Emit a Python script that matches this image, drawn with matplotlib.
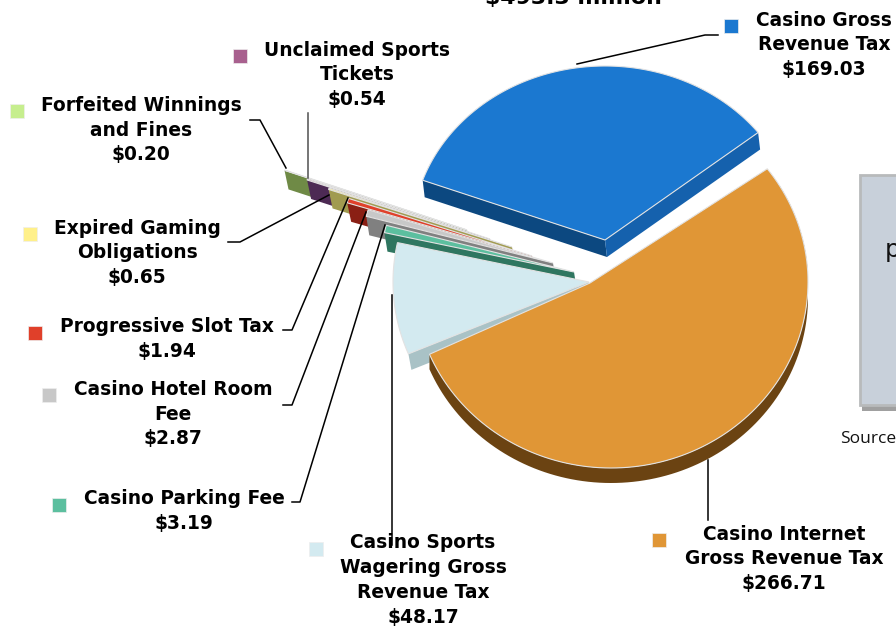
#!/usr/bin/env python3
import numpy as np
import matplotlib
matplotlib.use('Agg')
import matplotlib.pyplot as plt
from matplotlib.patches import Polygon, Rectangle

# pie data, counter clockwise from the blue slice ($ million)
names = ['Casino Gross\nRevenue Tax', 'Forfeited Winnings\nand Fines', 'Unclaimed Sports\nTickets',
         'Expired Gaming\nObligations', 'Progressive Slot Tax', 'Casino Hotel Room\nFee',
         'Casino Parking Fee', 'Casino Sports\nWagering Gross\nRevenue Tax', 'Casino Internet\nGross Revenue Tax']
values = [169.03, 0.20, 0.54, 0.65, 1.94, 2.87, 3.19, 48.17, 266.71]
total_label = '$493.3 million'

tops = ['#1b78d0', '#c6ee8e', '#a8608e', '#fff08a', '#e0402a', '#c8c8c8', '#5cbf9f', '#d3eaf0', '#e09636']
walls = ['#0c4880', '#6f8a46', '#4d2a54', '#a19b50', '#8a1f14', '#808080', '#2f7660', '#a9c2c6', '#6b4312']

# geometry per slice: tip, centre of arc, radii (pixels)
tip = [(605, 240), (467, 230), (490, 239), (512, 247), (532, 256), (553, 263), (574, 272), (589, 282), (590, 283)]
arc_c = [(605, 236), (467, 230), (490, 239), (512, 247), (532, 256), (553, 263), (574, 272), (589, 282), (611, 282)]
rx = [193, 193, 193, 193, 193, 193, 194, 196, 197]
ry = [170, 183, 185, 185, 185, 185, 185, 185, 186]
wall_dx = [2, 4, 4, 4, 4, 3, 3, 3, 0]
depth = [17, 19, 19, 19, 19, 19, 19, 16, 15]
start_angle = 37.5

# label centre, legend square, leader line
label_xy = [(824, 45), (141, 130), (357, 75), (137, 253), (167, 339), (173, 414), (184, 511), (423, 580), (784, 559)]
square_xy = [(731, 26), (17, 111), (240, 56), (30, 234), (35, 333), (49, 395), (59, 505), (316, 549), (659, 540)]
leaders = [[(577, 64), (705, 35), (718, 35)],
           [(250, 120), (260, 120), (286, 168)],
           [(308, 113), (308, 178)],
           [(228, 242), (240, 242), (329, 195)],
           [(283, 330), (292, 330), (348, 198)],
           [(283, 405), (292, 405), (366, 212)],
           [(292, 502), (300, 502), (385, 225)],
           [(392, 295), (392, 545)],
           [(708, 460), (708, 520)]]

fig = plt.figure(figsize=(8.96, 6.27), dpi=100)
ax = fig.add_axes([0, 0, 1, 1])
ax.set_xlim(0, 896)
ax.set_ylim(627, 0)
ax.axis('off')


def arc(c, a, b, i):
    t = np.radians(np.linspace(a, b, 120))
    return np.column_stack([c[0] + rx[i] * np.cos(t), c[1] - ry[i] * np.sin(t)])


sweeps = np.array(values) / sum(values) * 360
edges = start_angle + np.concatenate([[0], np.cumsum(sweeps)])

# thin ones first, then the big ones on top
for i in [1, 2, 3, 4, 5, 6, 7, 0, 8]:
    pts = arc(arc_c[i], edges[i], edges[i + 1], i)
    d = np.array([wall_dx[i], depth[i]])
    tp = np.array(tip[i], dtype=float)
    if i == 8:
        # outer wall seen under the arc
        low = pts[pts[:, 1] > tp[1] - 100]
        wall = np.vstack([low, (low + d)[::-1]])
        ax.add_patch(Polygon(wall, fc=walls[i], ec='none', zorder=3))
    elif i == 0:
        # two straight walls meeting at the tip
        ax.add_patch(Polygon([pts[-1], tp, tp + d, pts[-1] + d], fc=walls[i], ec='none', zorder=3))
        ax.add_patch(Polygon([tp, pts[0], pts[0] + d, tp + d], fc='#1561ad', ec='none', zorder=3))
    else:
        ax.add_patch(Polygon([pts[-1], tp, tp + d, pts[-1] + d], fc=walls[i], ec='none', zorder=3))
    ax.add_patch(Polygon(np.vstack([tp, pts]), fc=tops[i], ec='#e2e2e2', lw=0.8, zorder=3))

for i in range(len(names)):
    xs, ys = zip(*leaders[i])
    ax.plot(xs, ys, color='#505050' if i == 2 else 'black', lw=1.1, zorder=4)
    ax.add_patch(Rectangle((square_xy[i][0] - 7, square_xy[i][1] - 7), 14, 14, fc=tops[i], ec='#eeeeee', lw=0.5, zorder=4))
    ax.text(label_xy[i][0], label_xy[i][1], names[i] + '\n$%.2f' % values[i], ha='center', va='center',
            fontsize=13.4, fontweight='bold', linespacing=1.39, color='black', zorder=5)

ax.text(573, 4, total_label, ha='center', va='baseline', fontsize=15.8, fontweight='bold', clip_on=False)

# panel cut off at the right side
ax.add_patch(Rectangle((862, 406), 40, 5, fc='#a0a0a0', ec='none', zorder=1))
ax.add_patch(Rectangle((860, 175), 40, 230, fc='#c8d0da', ec='#b8babb', lw=2, zorder=2))
ax.text(885, 250, 'p', fontsize=18, va='center', ha='left', color='#111111', zorder=5, clip_on=True)
ax.text(840, 439, 'Source', fontsize=12.5, va='center', ha='left', color='#111111', family='Open Sans', clip_on=True)

fig.savefig('out.png', dpi=100)
